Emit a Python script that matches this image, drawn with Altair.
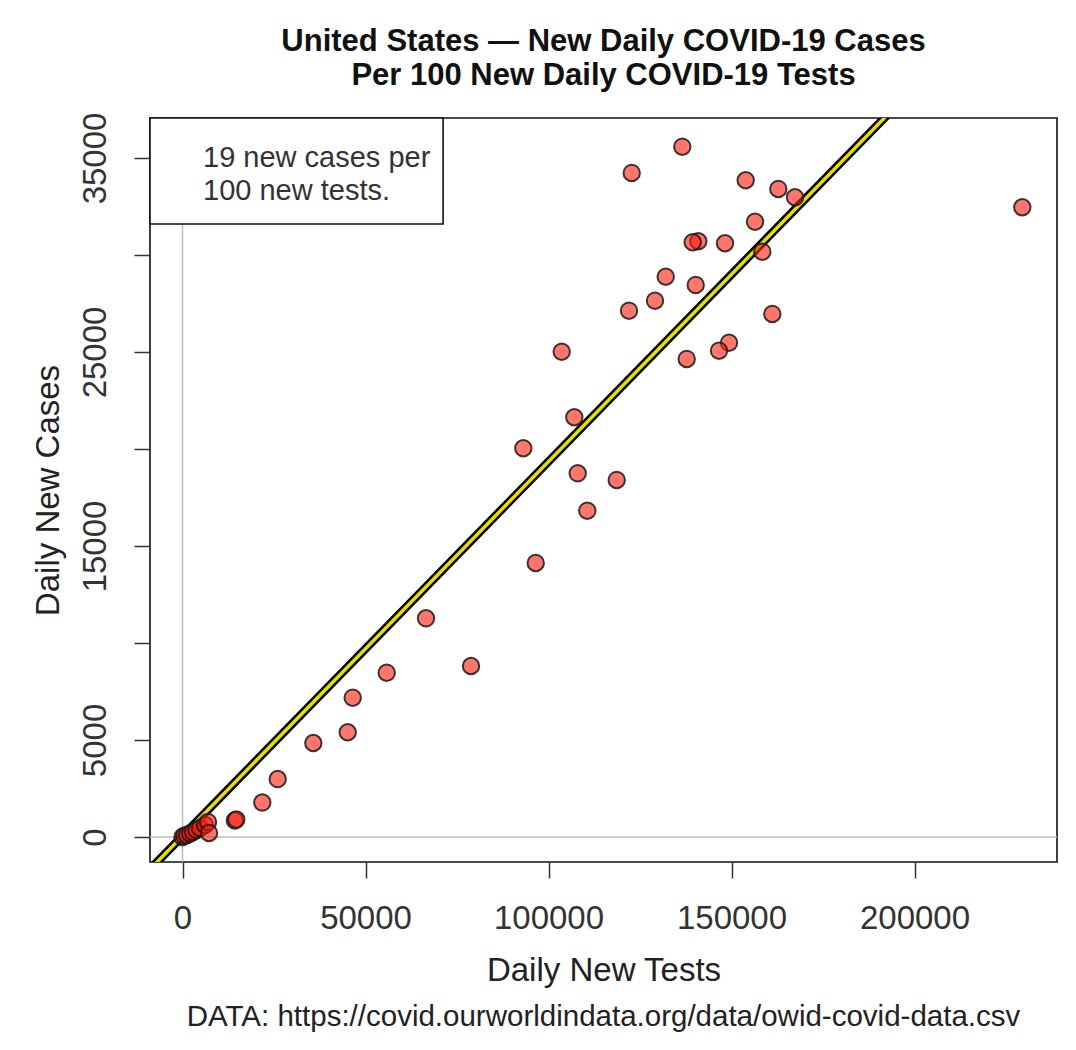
import altair as alt
import pandas as pd

# ---------------- data ----------------
tests = [136557, 122732, 153880, 162787, 167350, 229454, 156421, 140929, 139399,
         148224, 158415, 132022, 140219, 129098, 121995, 161148, 103607, 149317,
         146585, 137760, 107049, 93115, 107978, 118634, 110601, 96503, 66530,
         78825, 55792, 46503, 45137, 35738, 26011, 21803, 14300, 14700,
         0, 500, 1230, 2100, 2869, 3800, 4781, 6148, 6967, 7240]
cases = [35582, 34227, 33851, 33402, 32974, 32459, 31716, 30706, 30655,
         30603, 30170, 28881, 28454, 27644, 27129, 26959, 25015, 25479,
         25067, 24639, 21634, 20036, 18747, 18402, 16820, 14124, 11273,
         8814, 8469, 7180, 5397, 4845, 2985, 1773, 850, 900,
         0, 60, 103, 180, 258, 360, 464, 619, 773, 206]

SLOPE = 0.193        # new cases per new test (fitted line)
INTERCEPT = 50

X_DOMAIN = [-8880, 238930]
Y_DOMAIN = [-1290, 37060]
X_TICKS = [0, 50000, 100000, 150000, 200000]
Y_TICKS = [0, 5000, 10000, 15000, 20000, 25000, 30000, 35000]

TITLE = ["United States \u2014 New Daily COVID-19 Cases", "Per 100 New Daily COVID-19 Tests"]
X_TITLE = "Daily New Tests"
Y_TITLE = "Daily New Cases"
NOTE = ["19 new cases per", "100 new tests."]
NOTE_X = 5600
NOTE_Y = [35000, 33300]
SOURCE = "DATA: https://covid.ourworldindata.org/data/owid-covid-data.csv"

BOX_X = [X_DOMAIN[0], 71200]
BOX_Y = [31600, Y_DOMAIN[1]]

FONT = "Liberation Sans"
W, H = 907, 744

pts = pd.DataFrame({"tests": tests, "cases": cases})
line_df = pd.DataFrame({"tests": X_DOMAIN,
                        "cases": [SLOPE * v + INTERCEPT for v in X_DOMAIN]})
box_df = pd.DataFrame({"x": [BOX_X[0]], "x2": [BOX_X[1]], "y": [BOX_Y[0]], "y2": [BOX_Y[1]]})
note_df = pd.DataFrame({"t": NOTE, "x": [NOTE_X, NOTE_X], "y": NOTE_Y})

xs = alt.Scale(domain=X_DOMAIN, nice=False, zero=False)
ys = alt.Scale(domain=Y_DOMAIN, nice=False, zero=False)

x_axis = alt.Axis(values=X_TICKS, format="d", title=X_TITLE, titlePadding=19,
                  labelPadding=24, tickSize=16)
y_axis = alt.Axis(values=Y_TICKS, format="d", title=Y_TITLE, titlePadding=14,
                  labelAngle=-90, labelAlign="center", labelBaseline="bottom",
                  labelPadding=22, tickSize=16,
                  labelExpr="(datum.value % 10000 == 5000 || datum.value == 0) ? datum.label : ''")

hzero = alt.Chart(pd.DataFrame({"y": [0]})).mark_rule(color="#BDBDBD", strokeWidth=1.5).encode(
    y=alt.Y("y:Q", scale=ys, axis=y_axis))
vzero = alt.Chart(pd.DataFrame({"x": [0]})).mark_rule(color="#BDBDBD", strokeWidth=1.5).encode(
    x=alt.X("x:Q", scale=xs, axis=x_axis))

box = alt.Chart(box_df).mark_rect(fill="white", stroke="#111", strokeWidth=1.6).encode(
    x=alt.X("x:Q", scale=xs), x2="x2", y=alt.Y("y:Q", scale=ys), y2="y2")

note = alt.Chart(note_df).mark_text(font=FONT, fontSize=29, color="#333", align="left",
                                    baseline="middle").encode(
    x=alt.X("x:Q", scale=xs), y=alt.Y("y:Q", scale=ys), text="t:N")

fit_black = alt.Chart(line_df).mark_line(color="black", strokeWidth=8.5, clip=True).encode(
    x=alt.X("tests:Q", scale=xs), y=alt.Y("cases:Q", scale=ys))
fit_yellow = alt.Chart(line_df).mark_line(color="#E2E000", strokeWidth=3.5, clip=True).encode(
    x=alt.X("tests:Q", scale=xs), y=alt.Y("cases:Q", scale=ys))

points = alt.Chart(pts).mark_circle(size=270, color="#FF1A0A", opacity=1, fillOpacity=0.6,
                                    stroke="#1a1a1a", strokeWidth=2, strokeOpacity=0.85).encode(
    x=alt.X("tests:Q", scale=xs), y=alt.Y("cases:Q", scale=ys))

source = alt.Chart(pd.DataFrame({"t": [SOURCE]})).mark_text(
    font=FONT, fontSize=29.5, color="#222", align="center", baseline="middle").encode(
    x=alt.value(W / 2), y=alt.value(899), text="t:N")

chart = alt.layer(hzero, vzero, box, note, fit_black, fit_yellow, points, source).properties(
    width=W, height=H,
    title=alt.TitleParams(TITLE, anchor="middle", font=FONT, fontSize=31, fontWeight="bold",
                          color="#111", lineHeight=34, offset=20),
    autosize=alt.AutoSizeParams(type="none"),
    padding={"left": 142, "top": 110, "right": 10, "bottom": 180},
).configure_view(
    stroke="#111", strokeWidth=1.6
).configure_axis(
    domain=False, grid=False, tickColor="#333", tickWidth=1.5,
    labelFont=FONT, labelFontSize=33, labelColor="#333",
    titleFont=FONT, titleFontSize=33, titleColor="#222", titleFontWeight="normal"
)

chart.save("out.html", embed_options={"renderer": "svg", "actions": False})
